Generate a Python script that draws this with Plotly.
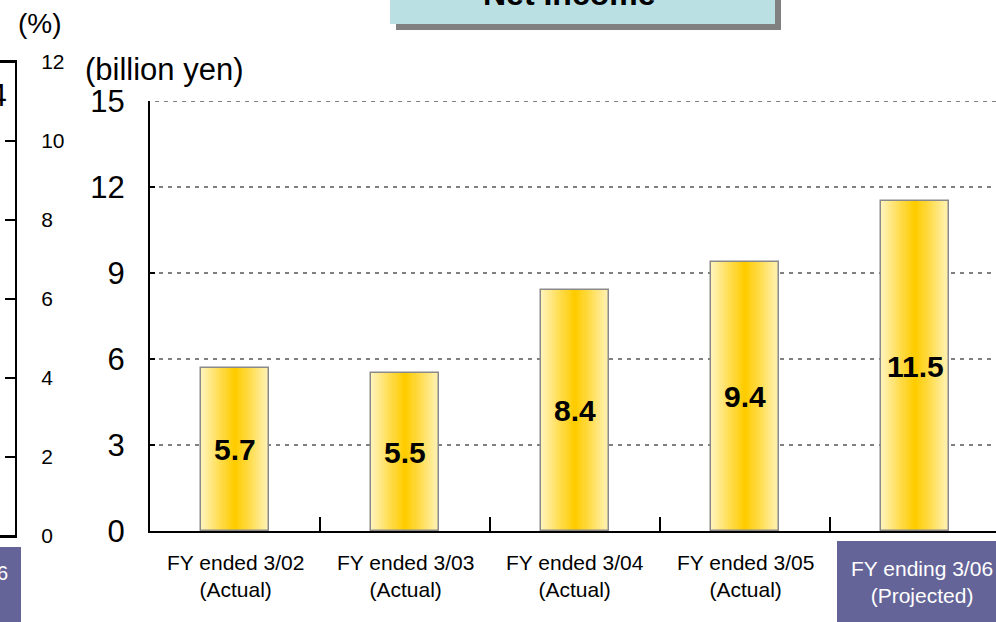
import plotly.graph_objects as go

# ---------------- data ----------------
fiscal_years = ["FY ended 3/02", "FY ended 3/03", "FY ended 3/04", "FY ended 3/05", "FY ending 3/06"]
statuses = ["(Actual)", "(Actual)", "(Actual)", "(Actual)", "(Projected)"]
net_income = [5.7, 5.5, 8.4, 9.4, 11.5]
y_ticks = [0, 3, 6, 9, 12, 15]
left_ticks = [0, 2, 4, 6, 8, 10, 12]
title_text = "Net Income"
unit_text = "(billion yen)"
pct_text = "(%)"

categories = [f"{a}<br>{b}" for a, b in zip(fiscal_years, statuses)]

W, H = 996, 622
REG = "Liberation Sans, Arial, sans-serif"


def px_x(p):
    return p / W


def px_y(p):
    return (H - p) / H


fig = go.Figure()

# stepped horizontal gradient built from overlaid bars
N = 16
edge = (255, 242, 178)
center = (255, 204, 0)
full_w = 0.395
for k in range(N):
    t = k / (N - 1)
    col = tuple(round(edge[i] + (center[i] - edge[i]) * t) for i in range(3))
    fig.add_bar(
        x=categories, y=net_income, width=full_w * (1 - k / N),
        marker=dict(color=f"rgb{col}", line=dict(width=0)),
        hoverinfo="skip", showlegend=False, xaxis="x", yaxis="y",
    )
# outline
fig.add_bar(
    x=categories, y=net_income, width=full_w,
    marker=dict(color="rgba(0,0,0,0)", line=dict(color="#8a8a8a", width=1.5)),
    hoverinfo="skip", showlegend=False,
)

# invisible trace for the partial left chart axes
fig.add_scatter(x=[], y=[], xaxis="x2", yaxis="y2", showlegend=False)

annotations = []
# value labels
for c, v in zip(categories, net_income):
    annotations.append(dict(
        x=c, y=v / 2, xref="x", yref="y", text=f"<b>{v:.1f}</b>", showarrow=False,
        font=dict(family=REG, size=30, color="black"), xanchor="center", yanchor="middle",
    ))
# category labels
for c, fy, st in zip(categories, fiscal_years, statuses):
    projected = st == "(Projected)"
    annotations.append(dict(
        x=c, y=px_y(582 if projected else 576), xref="x", yref="paper",
        text=f"{fy}<br>{st}", showarrow=False,
        xshift=7 if projected else 0,
        font=dict(family=REG, size=21, color="white" if projected else "black"),
        xanchor="center", yanchor="middle",
    ))

# unit labels
annotations.append(dict(x=px_x(83), y=px_y(70), xref="paper", yref="paper", text=unit_text,
                        showarrow=False, xanchor="left", yanchor="middle",
                        font=dict(family=REG, size=31, color="black")))
annotations.append(dict(x=px_x(40), y=px_y(24), xref="paper", yref="paper", text=pct_text,
                        showarrow=False, xanchor="center", yanchor="middle",
                        font=dict(family=REG, size=28, color="black")))
# title (mostly cut off at the top)
annotations.append(dict(x=px_x(569), y=px_y(-6), xref="paper", yref="paper", text=f"<b>{title_text}</b>",
                        showarrow=False, xanchor="center", yanchor="middle",
                        font=dict(family=REG, size=32, color="black")))
# fragments of the neighbouring chart
annotations.append(dict(x=px_x(9), y=px_y(95), xref="paper", yref="paper", text="4",
                        showarrow=False, xanchor="right", yanchor="middle",
                        font=dict(family=REG, size=32, color="black")))
annotations.append(dict(x=px_x(10), y=px_y(573), xref="paper", yref="paper", text="6",
                        showarrow=False, xanchor="right", yanchor="middle",
                        font=dict(family=REG, size=20, color="white")))

shapes = [
    # title shadow + box
    dict(type="rect", xref="paper", yref="paper", x0=px_x(396), x1=px_x(781), y0=px_y(30), y1=px_y(-40),
         fillcolor="#808080", line=dict(width=0), layer="below"),
    dict(type="rect", xref="paper", yref="paper", x0=px_x(390), x1=px_x(775), y0=px_y(24), y1=px_y(-40),
         fillcolor="#bae0e4", line=dict(width=0), layer="below"),
    # projected label box
    dict(type="rect", xref="paper", yref="paper", x0=px_x(837), x1=px_x(1000), y0=px_y(541), y1=px_y(630),
         fillcolor="#646498", line=dict(width=0), layer="below"),
    # left fragment box
    dict(type="rect", xref="paper", yref="paper", x0=px_x(-5), x1=px_x(21), y0=px_y(547), y1=px_y(630),
         fillcolor="#646498", line=dict(width=0), layer="below"),
    # top gridline (at the range edge)
    dict(type="line", xref="x domain", yref="y", x0=0.006, x1=1, y0=y_ticks[-1], y1=y_ticks[-1],
         line=dict(color="#808080", width=2, dash="4px,5px"), layer="below"),
    # frame of the neighbouring chart (top and bottom edges)
    dict(type="line", xref="x2 domain", yref="y2 domain", x0=0, x1=1, y0=1, y1=1,
         line=dict(color="black", width=2)),
    dict(type="line", xref="x2 domain", yref="y2 domain", x0=0, x1=1, y0=0, y1=0,
         line=dict(color="black", width=2)),
]

fig.update_layout(
    template="none",
    width=W, height=H,
    margin=dict(l=0, r=0, t=0, b=0, pad=0),
    paper_bgcolor="white", plot_bgcolor="rgba(0,0,0,0)",
    barmode="overlay", bargap=0,
    showlegend=False,
    annotations=annotations,
    shapes=shapes,
    xaxis=dict(
        domain=[px_x(150), 1], anchor="y", type="category", automargin=False,
        range=[-0.5, 4.476], showline=True, linecolor="black", linewidth=2,
        ticks="inside", tickson="boundaries", ticklen=14, tickwidth=1.5, tickcolor="black",
        showticklabels=False, showgrid=False, zeroline=False, fixedrange=True,
    ),
    yaxis=dict(
        domain=[1 - 531 / H, 1 - 101 / H], anchor="x", range=[0, 15], automargin=False,
        tickvals=y_ticks, ticktext=[str(v) for v in y_ticks],
        showline=True, linecolor="black", linewidth=2,
        ticks="inside", ticklen=5, tickwidth=1.5, tickcolor="black",
        tickfont=dict(family=REG, size=31, color="black"), ticklabelstandoff=17,
        showgrid=True, gridcolor="#808080", gridwidth=2, griddash="4px,5px",
        zeroline=False, fixedrange=True,
    ),
    xaxis2=dict(
        domain=[0, px_x(15)], anchor="y2", range=[0, 1], automargin=False,
        showline=True, mirror=True, linecolor="black", linewidth=2,
        ticks="", showticklabels=False, showgrid=False, zeroline=False,
    ),
    yaxis2=dict(
        domain=[1 - 536 / H, 1 - 62 / H], anchor="x2", side="right", range=[0, 12], automargin=False,
        tickvals=left_ticks, showline=True, linecolor="black", linewidth=2,
        ticks="inside", ticklen=10, tickwidth=1.5, tickcolor="black",
        tickfont=dict(family=REG, size=21, color="black"), ticklabelstandoff=20,
        showgrid=False, zeroline=False,
    ),
)

fig.write_html("out.html", config={"displayModeBar": False},
               post_script="document.body.style.margin='0';document.body.style.overflow='hidden';")
